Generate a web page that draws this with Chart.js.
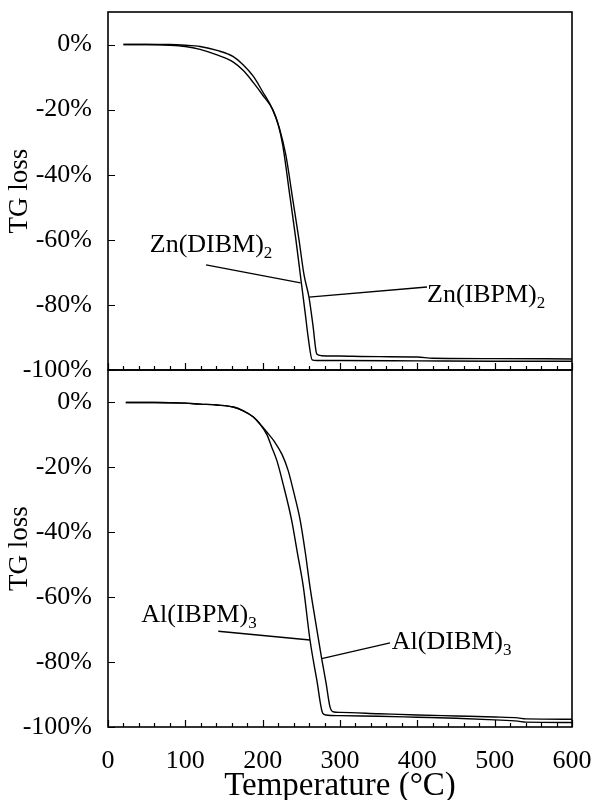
<!DOCTYPE html>
<html>
<head>
<meta charset="utf-8">
<title>TG loss</title>
<script src="https://cdn.jsdelivr.net/npm/chart.js@4.4.1/dist/chart.umd.min.js"></script>
<style>
  html, body { margin: 0; padding: 0; background: #fff; }
  #wrap { position: relative; width: 596px; height: 800px; overflow: hidden; }
  #wrap canvas { position: absolute; left: 0; top: 0; }
</style>
</head>
<body>
<div id="wrap">
  <canvas id="topChart" width="596" height="800"></canvas>
  <canvas id="bottomChart" width="596" height="800"></canvas>
</div>
<script>
// axis ticks
const xTicks = [0, 20, 40, 60, 80, 100, 120, 140, 160, 180, 200, 220, 240, 260, 280, 300,
  320, 340, 360, 380, 400, 420, 440, 460, 480, 500, 520, 540, 560, 580, 600];
const yTicks = [-100, -80, -60, -40, -20, 0];

// upper panel: zinc complexes
const znDibmTemp = [20, 50, 80, 100, 119, 141, 162, 175, 188, 200, 213, 220, 226, 235, 243, 250, 255, 259, 264, 270, 300, 400, 500, 600];
const znDibmLoss = [0, 0, -0.2, -0.6, -1.5, -3.2, -5.4, -8, -11.7, -15.5, -20, -24.5, -31, -46.2, -60, -73.2, -82.5, -90.2, -96.9, -97.1, -97.1, -97.2, -97.3, -97.3];

const znIbpmTemp = [20, 50, 80, 100, 119, 141, 162, 175, 188, 200, 213, 222, 230, 239, 247, 253.5, 260, 265, 270, 276, 300, 350, 400, 420, 500, 600];
const znIbpmLoss = [0, 0, 0, -0.2, -0.6, -1.8, -3.7, -6.3, -9.8, -14.5, -20, -26, -34, -47.7, -60, -70.8, -77.8, -86.2, -95.1, -95.6, -95.7, -95.9, -96.0, -96.4, -96.5, -96.6];

// lower panel: aluminium complexes
const alIbpmTemp = [23, 60, 100, 119, 141, 162, 175, 188, 196, 205.6, 211.6, 218.5, 226.3, 237.5, 245, 252.6, 261.2, 270, 277.6, 282, 300, 350, 400, 450, 500, 530, 540, 600];
const alIbpmLoss = [0, 0, -0.2, -0.5, -0.8, -1.4, -2.6, -4.5, -6.5, -10, -13.7, -18, -25, -36.3, -46.5, -56.8, -73.2, -85.5, -95.7, -96.3, -96.5, -96.7, -97, -97.3, -97.8, -98.2, -98.5, -98.6];

const alDibmTemp = [23, 60, 100, 119, 141, 162, 175, 188, 196, 205.6, 215, 225, 233, 240, 248.3, 255, 261.2, 268, 276.3, 282, 287, 291, 300, 350, 400, 450, 500, 530, 540, 600];
const alDibmLoss = [0, 0, -0.2, -0.5, -0.8, -1.4, -2.6, -4.5, -6.5, -9.2, -12, -16, -21, -27.5, -36, -46, -56.8, -67, -78.9, -86.5, -93.7, -95.3, -95.5, -95.9, -96.3, -96.6, -96.9, -97.2, -97.5, -97.6];

// curve names (text + subscript), placed in data units
const topLabelText = ['Zn(DIBM)', 'Zn(IBPM)'];
const topLabelSub = ['2', '2'];
const topLabelTemp = [54, 412.5];
const topLabelLoss = [-63.7, -79];

const bottomLabelText = ['Al(IBPM)', 'Al(DIBM)'];
const bottomLabelSub = ['3', '3'];
const bottomLabelTemp = [43, 367];
const bottomLabelLoss = [-67.6, -76];

// leader lines from names to curves
const topLeaders = [
  { temp: [126.7, 249], loss: [-67.7, -73.2] },
  { temp: [259.9, 412.5], loss: [-77.6, -74.5] }
];
const bottomLeaders = [
  { temp: [142.6, 261.2], loss: [-70.5, -73.2] },
  { temp: [276.3, 364.7], loss: [-78.9, -74.1] }
];

const SERIF = '"Liberation Serif", "Times New Roman", serif';

const toPoints = (temps, losses) => temps.map((t, i) => ({ x: t, y: losses[i] }));

const curve = (temps, losses) => ({
    data: toPoints(temps, losses),
    borderColor: '#000',
    borderWidth: 1.4,
    pointRadius: 0,
    fill: false,
    cubicInterpolationMode: 'monotone'
});

const leader = (l) => ({
    data: toPoints(l.temp, l.loss),
    borderColor: '#000',
    borderWidth: 1.3,
    pointRadius: 0,
    fill: false,
    tension: 0
});

// plot frame plus inward tick marks
const frameTicks = {
    id: 'frameTicks',
    afterDatasetsDraw(chart) {
        const { ctx, chartArea: a, scales: { x, y } } = chart;
        ctx.save();
        ctx.strokeStyle = '#000';
        ctx.lineWidth = 1.6;
        ctx.strokeRect(a.left, a.top, a.right - a.left, a.bottom - a.top);
        ctx.lineWidth = 1.2;
        ctx.beginPath();
        xTicks.forEach(v => {
            const px = Math.round(x.getPixelForValue(v)) + 0.5;
            const len = v % 100 === 0 ? 7 : 4;
            ctx.moveTo(px, a.bottom);
            ctx.lineTo(px, a.bottom - len);
        });
        yTicks.forEach(v => {
            const py = Math.round(y.getPixelForValue(v)) + 0.5;
            ctx.moveTo(a.left, py);
            ctx.lineTo(a.left + 7, py);
        });
        ctx.stroke();
        ctx.restore();
    }
};

// curve names with subscript
const curveLabels = {
    id: 'curveLabels',
    afterDatasetsDraw(chart, args, opts) {
        const { ctx, scales: { x, y } } = chart;
        ctx.save();
        ctx.fillStyle = '#000';
        ctx.textBaseline = 'alphabetic';
        ctx.textAlign = 'left';
        opts.text.forEach((txt, i) => {
            const px = x.getPixelForValue(opts.temp[i]);
            const py = y.getPixelForValue(opts.loss[i]);
            ctx.font = `26px ${SERIF}`;
            ctx.fillText(txt, px, py);
            const w = ctx.measureText(txt).width;
            ctx.font = `17px ${SERIF}`;
            ctx.fillText(opts.sub[i], px + w, py + 6);
        });
        ctx.restore();
    }
};

const makePanel = (canvasId, cfg) => {
    const ctx = document.getElementById(canvasId).getContext('2d');
    return new Chart(ctx, {
        type: 'line',
        data: { datasets: cfg.datasets },
        options: {
            responsive: false,
            animation: false,
            devicePixelRatio: 1,
            layout: { padding: { top: cfg.top, bottom: cfg.bottom, left: 0, right: 24 } },
            plugins: {
                legend: { display: false },
                tooltip: { enabled: false },
                curveLabels: cfg.labels
            },
            scales: {
                x: {
                    type: 'linear',
                    min: 0,
                    max: 600,
                    afterBuildTicks: s => { s.ticks = xTicks.map(v => ({ value: v })); },
                    afterFit: s => { s.height = cfg.xHeight; s.paddingLeft = 0; s.paddingRight = 0; },
                    grid: { display: false },
                    border: { display: false },
                    ticks: {
                        display: cfg.showX,
                        autoSkip: false,
                        maxRotation: 0,
                        padding: 11,
                        color: '#000',
                        font: { family: SERIF, size: 26 },
                        callback: v => (v % 100 === 0 ? String(v) : '')
                    },
                    title: {
                        display: cfg.showX,
                        text: 'Temperature (°C)',
                        color: '#000',
                        font: { family: SERIF, size: 33, lineHeight: 1 },
                        padding: { top: 0, bottom: -2.5 }
                    }
                },
                y: {
                    type: 'linear',
                    min: -100,
                    max: 10,
                    afterBuildTicks: s => { s.ticks = yTicks.map(v => ({ value: v })); },
                    afterFit: s => { s.width = 108; s.paddingTop = 0; s.paddingBottom = 0; },
                    grid: { display: false },
                    border: { display: false },
                    ticks: {
                        padding: 8,
                        color: '#000',
                        font: { family: SERIF, size: 26 },
                        callback: v => `${v}%`
                    },
                    title: {
                        display: true,
                        text: 'TG loss',
                        color: '#000',
                        font: { family: SERIF, size: 27 },
                        padding: { top: 4, bottom: 0 }
                    }
                }
            }
        },
        plugins: [frameTicks, curveLabels]
    });
};

makePanel('topChart', {
    top: 12,
    bottom: 430,
    xHeight: 0,
    showX: false,
    datasets: [
        curve(znDibmTemp, znDibmLoss),
        curve(znIbpmTemp, znIbpmLoss),
        ...topLeaders.map(leader)
    ],
    labels: { text: topLabelText, sub: topLabelSub, temp: topLabelTemp, loss: topLabelLoss }
});

makePanel('bottomChart', {
    top: 370,
    bottom: 0,
    xHeight: 73,
    showX: true,
    datasets: [
        curve(alIbpmTemp, alIbpmLoss),
        curve(alDibmTemp, alDibmLoss),
        ...bottomLeaders.map(leader)
    ],
    labels: { text: bottomLabelText, sub: bottomLabelSub, temp: bottomLabelTemp, loss: bottomLabelLoss }
});
</script>
</body>
</html>
